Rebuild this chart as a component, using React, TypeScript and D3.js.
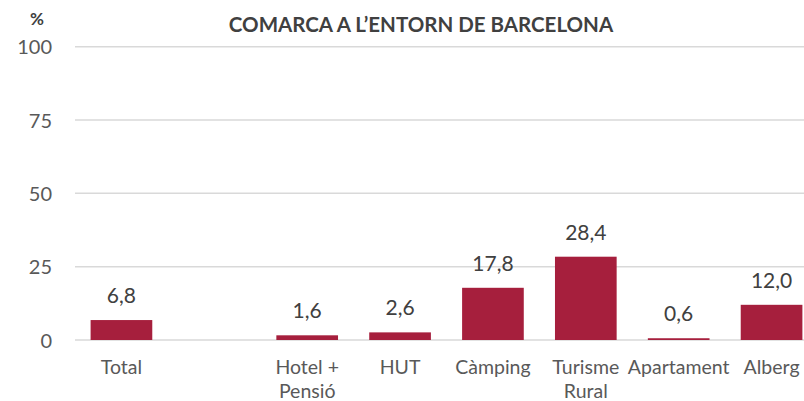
import React from "react";
import * as d3 from "d3";

const title = "COMARCA A L’ENTORN DE BARCELONA";
const unitLabel = "%";
const categories = ["Total", "", "Hotel + Pensió", "HUT", "Càmping", "Turisme Rural", "Apartament", "Alberg"];
const categoryLines = [["Total"], [""], ["Hotel +", "Pensió"], ["HUT"], ["Càmping"], ["Turisme", "Rural"], ["Apartament"], ["Alberg"]];
const values: (number | null)[] = [6.8, null, 1.6, 2.6, 17.8, 28.4, 0.6, 12.0];
const yTicks = [0, 25, 50, 75, 100];

const W = 804;
const H = 401;
const FONT = "Lato, 'Open Sans', sans-serif";

export default function App() {
  const left = 75;
  const right = 818;
  const top = 46.7;
  const bottom = 340;
  const x = d3.scaleBand<string>().domain(categories.map((c, i) => String(i))).range([left, right]).paddingInner(0.336).paddingOuter(0.168);
  const y = d3.scaleLinear().domain([0, 100]).range([bottom, top]);
  const fmt = (v: number) => v.toFixed(1).replace(".", ",");
  return (
    <svg width={W} height={H} style={{ position: "absolute", left: 0, top: 0, background: "#fff" }} fontFamily={FONT}>
      <text x={421} y={32} textAnchor="middle" fontSize={20.5} fontWeight={700} fill="#404040">{title}</text>
      <text x={37} y={25} textAnchor="middle" fontSize={17} fontWeight={700} fill="#404040">{unitLabel}</text>
      {yTicks.map((t) => (
        <g key={t}>
          <line x1={left} x2={W} y1={y(t)} y2={y(t)} stroke="#D9D9D9" strokeWidth={1.5} />
          <text x={52} y={y(t) + 7.5} textAnchor="end" fontSize={20} fill="#595959">{t}</text>
        </g>
      ))}
      {values.map((v, i) => {
        if (v === null) return null;
        const bx = x(String(i))!;
        const bw = x.bandwidth();
        return (
          <g key={i}>
            <rect x={bx} y={y(v)} width={bw} height={bottom - y(v)} fill="#A61F3D" />
            <text x={bx + bw / 2} y={y(v) - 17} textAnchor="middle" fontSize={21} fill="#404040">{fmt(v)}</text>
          </g>
        );
      })}
      {categoryLines.map((lines, i) => {
        const cx = x(String(i))! + x.bandwidth() / 2;
        return (
          <text key={i} textAnchor="middle" fontSize={19.5} fill="#595959">
            {lines.map((l, j) => (
              <tspan key={j} x={cx} y={374 + j * 24}>{l}</tspan>
            ))}
          </text>
        );
      })}
    </svg>
  );
}
